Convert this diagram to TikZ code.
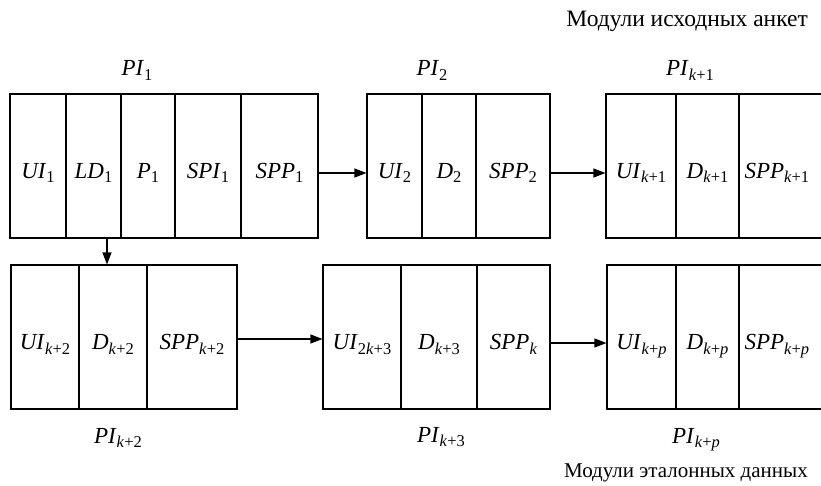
\documentclass[tikz,border=0pt]{standalone}
\usepackage{fontspec}
\setmainfont{Liberation Serif}
\usetikzlibrary{arrows.meta}
% italic symbol with a lowered, smaller subscript
\newcommand\sym[2]{\textit{#1}\raisebox{-4.5pt}{\fontsize{16.5}{16.5}\selectfont #2}}
\newcommand\kk{\textit{k}}
\newcommand\pp{\textit{p}}
\begin{document}
\begin{tikzpicture}[x=1pt,y=-1pt,
  every node/.style={font=\fontsize{23}{27}\selectfont},
  cell/.style={rectangle,draw,line width=1.1pt,inner sep=0pt,
    minimum height=144pt,text height=25pt,text depth=0pt},
  caption/.style={anchor=base,inner sep=0pt},
  group/.style={anchor=base east,inner sep=0pt},
  link/.style={line width=1.1pt,-{Triangle[length=12pt,width=9pt]}}]
\useasboundingbox (0,0) rectangle (821,486);
\clip (0,0) rectangle (821,486);

% top row
\node[cell,minimum width=56pt] (a1) at (38,166) {\sym{UI}{1}};
\node[cell,minimum width=55pt] (a2) at (93.5,166) {\sym{LD}{1}};
\node[cell,minimum width=54pt] (a3) at (148,166) {\sym{P}{1}};
\node[cell,minimum width=66pt] (a4) at (208,166) {\sym{SPI}{1}};
\node[cell,minimum width=77pt] (a5) at (279.5,166) {\sym{SPP}{1}};

\node[cell,minimum width=55pt] (b1) at (394.5,166) {\sym{UI}{2}};
\node[cell,minimum width=54pt] (b2) at (449,166) {\sym{D}{2}};
\node[cell,minimum width=74pt] (b3) at (513,166) {\sym{SPP}{2}};

\node[cell,minimum width=70pt] (c1) at (641,166) {\sym{UI}{\kk+1}};
\node[cell,minimum width=63pt] (c2) at (707.5,166) {\sym{D}{\kk+1}};
\node[cell,minimum width=91pt,text width=84pt,align=left] (c3) at (784.5,166) {\hspace*{2pt}\sym{SPP}{\kk+1}};

% bottom row
\node[cell,minimum width=68pt] (d1) at (45,337) {\sym{UI}{\kk+2}};
\node[cell,minimum width=68pt] (d2) at (113,337) {\sym{D}{\kk+2}};
\node[cell,minimum width=90pt] (d3) at (192,337) {\sym{SPP}{\kk+2}};

\node[cell,minimum width=78pt] (e1) at (362,337) {\sym{UI}{2\kk+3}};
\node[cell,minimum width=76pt] (e2) at (439,337) {\sym{D}{\kk+3}};
\node[cell,minimum width=73pt] (e3) at (513.5,337) {\sym{SPP}{\kk}};

\node[cell,minimum width=69pt] (f1) at (641.5,337) {\sym{UI}{\kk+\pp}};
\node[cell,minimum width=63pt] (f2) at (707.5,337) {\sym{D}{\kk+\pp}};
\node[cell,minimum width=91pt,text width=84pt,align=left] (f3) at (784.5,337) {\hspace*{2pt}\sym{SPP}{\kk+\pp}};

% captions
\node[caption] (t1) at (137,76) {\sym{PI}{1}};
\node[caption] (t2) at (432,76) {\sym{PI}{2}};
\node[caption] (t3) at (690,76) {\sym{PI}{\kk+1}};
\node[caption] (t4) at (118,443) {\sym{PI}{\kk+2}};
\node[caption] (t5) at (441,442) {\sym{PI}{\kk+3}};
\node[caption] (t6) at (696,443) {\sym{PI}{\kk+\pp}};
\node[group,font=\fontsize{23.5}{28}\selectfont] (m1) at (808,27) {Модули исходных анкет};
\node[group,font=\fontsize{21}{25}\selectfont] (m2) at (808,477) {Модули эталонных данных};

% connectors
\draw[link] ([yshift=-7pt]a5.east) -- ([yshift=-7pt]b1.west);
\draw[link] ([yshift=-7pt]b3.east) -- ([yshift=-7pt]c1.west);
\coordinate (drop) at (107,238);
\draw[link] (drop) -- (drop |- d2.north);
\draw[link] ([yshift=-2pt]d3.east) -- ([yshift=-2pt]e1.west);
\draw[link] ([yshift=-6pt]e3.east) -- ([yshift=-6pt]f1.west);
\end{tikzpicture}
\end{document}
